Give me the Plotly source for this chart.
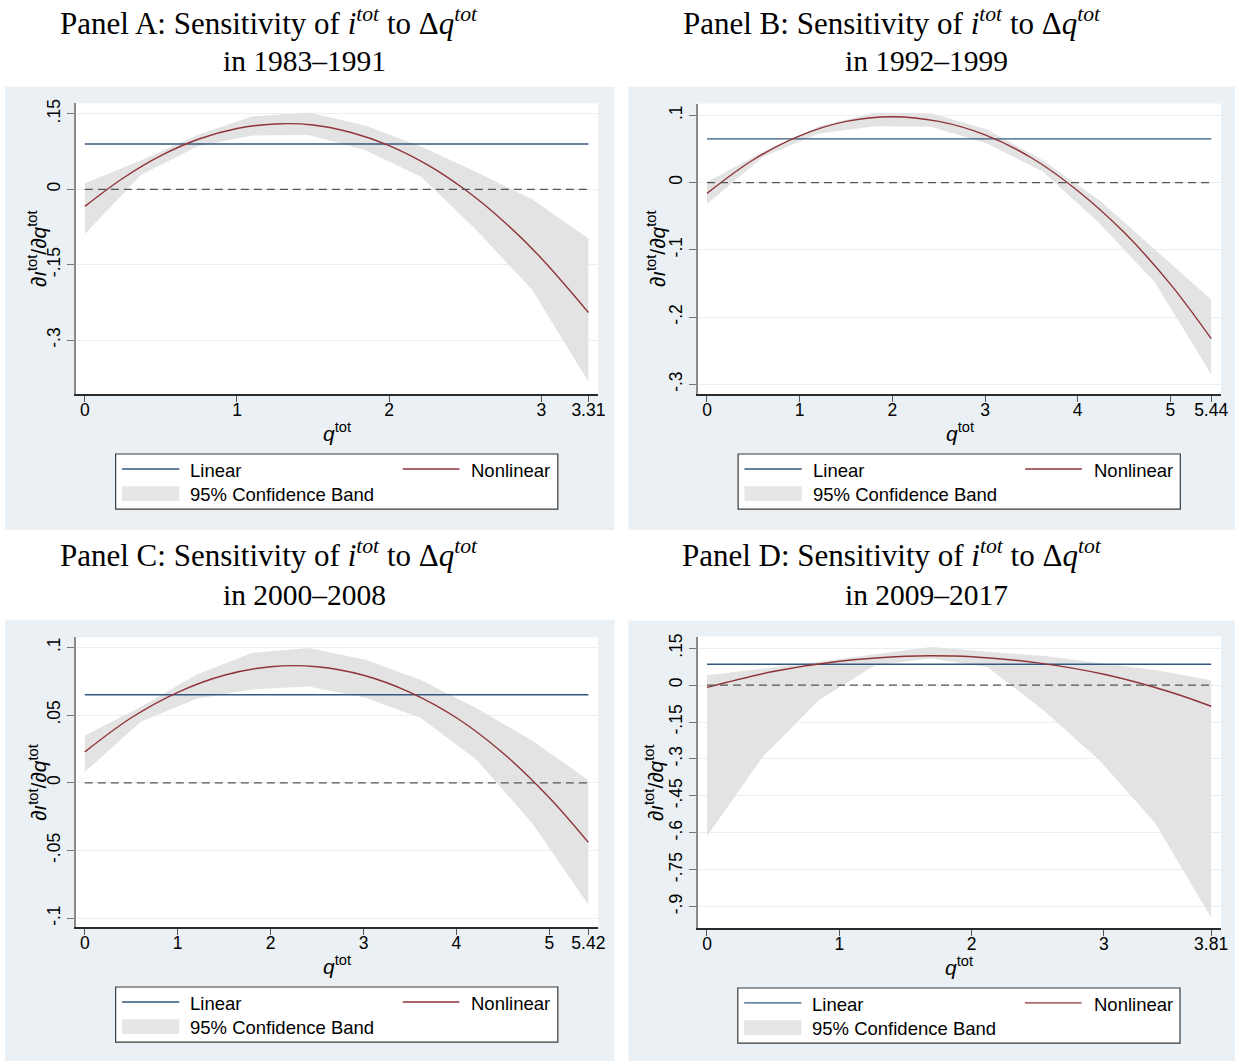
import plotly.graph_objects as go

W, H = 1242, 1062

# ---------------- data ----------------
# Panel A: 1983-1991
a_x_max = 3.31
a_linear = 0.090
a_curve_x = [0, 0.25, 0.5, 0.75, 1.0, 1.25, 1.5, 1.75, 2.0, 2.25, 2.5, 2.75, 3.0, 3.31]
a_curve_y = [-0.034, 0.022, 0.067, 0.100, 0.121, 0.130, 0.128, 0.113, 0.087, 0.049, -0.001, -0.063, -0.137, -0.245]
a_band_x = [0, 0.37, 0.74, 1.10, 1.47, 1.84, 2.21, 2.57, 2.94, 3.31]
a_band_hi = [0.012, 0.058, 0.108, 0.145, 0.153, 0.127, 0.085, 0.035, -0.020, -0.098]
a_band_lo = [-0.089, 0.029, 0.085, 0.107, 0.108, 0.078, 0.025, -0.080, -0.200, -0.383]
a_yticks = [0.15, 0, -0.15, -0.3]
a_yticklabels = [".15", "0", "-.15", "-.3"]
a_xticks = [0, 1, 2, 3, 3.31]
a_xticklabels = ["0", "1", "2", "3", "3.31"]

# Panel B: 1992-1999
b_x_max = 5.44
b_linear = 0.065
b_curve_x = [0, 0.5, 1.0, 1.5, 2.0, 2.5, 3.0, 3.5, 4.0, 4.5, 5.0, 5.44]
b_curve_y = [-0.016, 0.034, 0.0695, 0.091, 0.098, 0.091, 0.071, 0.037, -0.012, -0.074, -0.151, -0.232]
b_band_x = [0, 0.604, 1.209, 1.813, 2.418, 3.022, 3.627, 4.231, 4.836, 5.44]
b_band_hi = [0.001, 0.046, 0.084, 0.104, 0.103, 0.079, 0.033, -0.026, -0.100, -0.174]
b_band_lo = [-0.032, 0.038, 0.073, 0.084, 0.083, 0.058, 0.016, -0.060, -0.149, -0.285]
b_yticks = [0.1, 0, -0.1, -0.2, -0.3]
b_yticklabels = [".1", "0", "-.1", "-.2", "-.3"]
b_xticks = [0, 1, 2, 3, 4, 5, 5.44]
b_xticklabels = ["0", "1", "2", "3", "4", "5", "5.44"]

# Panel C: 2000-2008
c_x_max = 5.42
c_linear = 0.065
c_curve_x = [0, 0.5, 1.0, 1.5, 2.0, 2.5, 3.0, 3.5, 4.0, 4.5, 5.0, 5.42]
c_curve_y = [0.0228, 0.048, 0.0668, 0.0794, 0.0857, 0.0857, 0.0794, 0.0668, 0.048, 0.022, -0.011, -0.044]
c_band_x = [0, 0.602, 1.204, 1.807, 2.409, 3.011, 3.613, 4.216, 4.818, 5.42]
c_band_hi = [0.035, 0.056, 0.080, 0.096, 0.0995, 0.091, 0.076, 0.055, 0.031, 0.002]
c_band_lo = [0.008, 0.045, 0.062, 0.069, 0.071, 0.063, 0.048, 0.017, -0.030, -0.090]
c_yticks = [0.1, 0.05, 0, -0.05, -0.1]
c_yticklabels = [".1", ".05", "0", "-.05", "-.1"]
c_xticks = [0, 1, 2, 3, 4, 5, 5.42]
c_xticklabels = ["0", "1", "2", "3", "4", "5", "5.42"]

# Panel D: 2009-2017
d_x_max = 3.81
d_linear = 0.085
d_curve_x = [0, 0.5, 1.0, 1.5, 1.7, 2.0, 2.5, 3.0, 3.5, 3.81]
d_curve_y = [-0.0095, 0.055, 0.097, 0.117, 0.119, 0.115, 0.0905, 0.044, -0.028, -0.086]
d_band_x = [0, 0.423, 0.847, 1.27, 1.693, 2.117, 2.54, 2.963, 3.387, 3.81]
d_band_hi = [0.040, 0.0675, 0.0945, 0.1255, 0.155, 0.135, 0.119, 0.090, 0.061, 0.020]
d_band_lo = [-0.614, -0.290, -0.061, 0.081, 0.108, 0.074, -0.101, -0.304, -0.560, -0.945]
d_yticks = [0.15, 0, -0.15, -0.3, -0.45, -0.6, -0.75, -0.9]
d_yticklabels = [".15", "0", "-.15", "-.3", "-.45", "-.6", "-.75", "-.9"]
d_xticks = [0, 1, 2, 3, 3.81]
d_xticklabels = ["0", "1", "2", "3", "3.81"]

titles = [
    ("Panel A: Sensitivity of <i>i</i><sup><i>tot</i></sup> to Δ<i>q</i><sup><i>tot</i></sup>", "in 1983–1991"),
    ("Panel B: Sensitivity of <i>i</i><sup><i>tot</i></sup> to Δ<i>q</i><sup><i>tot</i></sup>", "in 1992–1999"),
    ("Panel C: Sensitivity of <i>i</i><sup><i>tot</i></sup> to Δ<i>q</i><sup><i>tot</i></sup>", "in 2000–2008"),
    ("Panel D: Sensitivity of <i>i</i><sup><i>tot</i></sup> to Δ<i>q</i><sup><i>tot</i></sup>", "in 2009–2017"),
]

legend_labels = ["Linear", "Nonlinear", "95% Confidence Band"]
x_title = "<i>q</i><sup>tot</sup>"
y_title = "∂<i>ı</i><sup>tot</sup>/∂<i>q</i><sup>tot</sup>"

panels = [
    dict(xmax=a_x_max, lin=a_linear, cx=a_curve_x, cy=a_curve_y, bx=a_band_x, bhi=a_band_hi, blo=a_band_lo,
         yt=a_yticks, ytl=a_yticklabels, xt=a_xticks, xtl=a_xticklabels),
    dict(xmax=b_x_max, lin=b_linear, cx=b_curve_x, cy=b_curve_y, bx=b_band_x, bhi=b_band_hi, blo=b_band_lo,
         yt=b_yticks, ytl=b_yticklabels, xt=b_xticks, xtl=b_xticklabels),
    dict(xmax=c_x_max, lin=c_linear, cx=c_curve_x, cy=c_curve_y, bx=c_band_x, bhi=c_band_hi, blo=c_band_lo,
         yt=c_yticks, ytl=c_yticklabels, xt=c_xticks, xtl=c_xticklabels),
    dict(xmax=d_x_max, lin=d_linear, cx=d_curve_x, cy=d_curve_y, bx=d_band_x, bhi=d_band_hi, blo=d_band_lo,
         yt=d_yticks, ytl=d_yticklabels, xt=d_xticks, xtl=d_xticklabels),
]

# ---------------- geometry (pixels) ----------------
frames = [
    dict(box=(5, 83, 618, 528), plot=(76, 99.5, 601.7, 391.3), xr=(-0.061, 3.375), yr=(-0.4068, 0.1714),
         t1=(271, 18), t2=(306, 57), yt_off=38),
    dict(box=(632, 83, 1242, 528), plot=(702, 100, 1228, 391.7), xr=(-0.0966, 5.547), yr=(-0.3148, 0.1175),
         t1=(897, 18), t2=(932, 57), yt_off=42),
    dict(box=(5, 618, 618, 1061), plot=(76, 635.7, 601.7, 926.7), xr=(-0.0995, 5.527), yr=(-0.1066, 0.1074),
         t1=(271, 552), t2=(306, 593), yt_off=38),
    dict(box=(632, 619, 1242, 1061), plot=(701.7, 635, 1228, 927.3), xr=(-0.0699, 3.885), yr=(-0.986, 0.197),
         t1=(897, 552), t2=(932, 593), yt_off=44),
]

BOX_BG = "#eaf0f3"
LIN_C = "#34587f"
NL_C = "#8f3439"
BAND_C = "#e3e3e3"
GRID_C = "#e9f0f2"
SANS = "Liberation Sans, Arial, sans-serif"
SERIF = "Liberation Serif, Times New Roman, serif"


def px(x):
    return x / W


def py(y):
    return 1 - y / H


fig = go.Figure()
shapes = []
annotations = []
layout_axes = {}

for i, (p, f) in enumerate(zip(panels, frames)):
    n = i + 1
    xa = "x" if n == 1 else f"x{n}"
    ya = "y" if n == 1 else f"y{n}"
    bl, bt, br, bb = f["box"]
    pl, pt, pr, pb = f["plot"]

    shapes.append(dict(type="rect", xref="paper", yref="paper", x0=px(bl), x1=px(br), y0=py(bb), y1=py(bt),
                       fillcolor=BOX_BG, line=dict(width=0), layer="below"))
    shapes.append(dict(type="rect", xref="paper", yref="paper", x0=px(pl), x1=px(pr), y0=py(pb), y1=py(pt),
                       fillcolor="white", line=dict(width=0), layer="below"))

    fig.add_trace(go.Scatter(x=p["bx"] + p["bx"][::-1], y=p["bhi"] + p["blo"][::-1], fill="toself",
                             fillcolor=BAND_C, line=dict(width=0), mode="lines", hoverinfo="skip",
                             showlegend=False, xaxis=xa, yaxis=ya))
    fig.add_trace(go.Scatter(x=[0, p["xmax"]], y=[p["lin"], p["lin"]], mode="lines",
                             line=dict(color=LIN_C, width=1.4), showlegend=False, xaxis=xa, yaxis=ya))
    fig.add_trace(go.Scatter(x=p["cx"], y=p["cy"], mode="lines", line=dict(color=NL_C, width=1.4, shape="spline"),
                             showlegend=False, xaxis=xa, yaxis=ya))
    fig.add_trace(go.Scatter(x=[0, p["xmax"]], y=[0, 0], mode="lines",
                             line=dict(color="#555555", width=1.3, dash="8px,5px"), showlegend=False,
                             xaxis=xa, yaxis=ya))

    xkey = "xaxis" if n == 1 else f"xaxis{n}"
    ykey = "yaxis" if n == 1 else f"yaxis{n}"
    layout_axes[xkey] = dict(domain=[px(pl), px(pr)], anchor=ya, range=list(f["xr"]), tickvals=p["xt"],
                             ticktext=p["xtl"], ticks="outside", ticklen=6, tickwidth=1.2, tickcolor="#555555",
                             showline=True, linecolor="#2b2b2b", linewidth=1.5, showgrid=False, zeroline=False,
                             ticklabelstandoff=-7,
                             tickfont=dict(family=SANS, size=17.5, color="black"))
    layout_axes[ykey] = dict(domain=[py(pb), py(pt)], anchor=xa, range=list(f["yr"]), tickvals=p["yt"],
                             ticktext=p["ytl"], ticks="outside", ticklen=7, tickwidth=1.2, tickcolor="#777777",
                             showline=True, linecolor="#8a8a8a", linewidth=1.8, showgrid=True, gridcolor=GRID_C,
                             gridwidth=1.2, zeroline=False, tickangle=-90,
                             tickfont=dict(family=SANS, size=17.5, color="black"))

    t_a, t_b = titles[i]
    annotations.append(dict(text=t_a, x=px(f["t1"][0]), y=py(f["t1"][1]), xref="paper", yref="paper",
                            showarrow=False, xanchor="center", yanchor="middle",
                            font=dict(family=SERIF, size=31, color="black")))
    annotations.append(dict(text=t_b, x=px(f["t2"][0]), y=py(f["t2"][1]), xref="paper", yref="paper",
                            showarrow=False, xanchor="center", yanchor="middle",
                            font=dict(family=SERIF, size=29.5, color="black")))
    annotations.append(dict(text=x_title, x=px((pl + pr) / 2), y=py(pb + 38), xref="paper", yref="paper",
                            showarrow=False, xanchor="center", yanchor="middle",
                            font=dict(family=SANS, size=21, color="black")))
    annotations.append(dict(text=y_title, x=px(pl - f["yt_off"]), y=py((pt + pb) / 2), xref="paper", yref="paper",
                            showarrow=False, xanchor="center", yanchor="middle", textangle=-90,
                            font=dict(family=SANS, size=21, color="black")))

    shapes.append(dict(type="rect", xref="paper", yref="paper", x0=px(pl + 40.3), x1=px(pl + 485),
                       y0=py(bt + 424), y1=py(bt + 368.7), fillcolor="white",
                       line=dict(color="#3a3a3a", width=1.2), layer="above"))
    shapes.append(dict(type="line", xref="paper", yref="paper", x0=px(pl + 46.7), x1=px(pl + 104.3),
                       y0=py(bt + 383.7), y1=py(bt + 383.7), line=dict(color=LIN_C, width=1.4), layer="above"))
    shapes.append(dict(type="line", xref="paper", yref="paper", x0=px(pl + 329), x1=px(pl + 386),
                       y0=py(bt + 383.7), y1=py(bt + 383.7), line=dict(color=NL_C, width=1.4), layer="above"))
    shapes.append(dict(type="rect", xref="paper", yref="paper", x0=px(pl + 46.7), x1=px(pl + 104.3),
                       y0=py(bt + 416), y1=py(bt + 401), fillcolor="#e6e6e6", line=dict(width=0),
                       layer="above"))
    for lab, lx, ly in [(legend_labels[0], pl + 113.3, bt + 385), (legend_labels[1], pl + 396, bt + 385),
                        (legend_labels[2], pl + 113.3, bt + 409)]:
        annotations.append(dict(text=lab, x=px(lx), y=py(ly), xref="paper", yref="paper", showarrow=False,
                                xanchor="left", yanchor="middle",
                                font=dict(family=SANS, size=18.5, color="black")))

# figure size comes from the div (placed at the page origin so the body margin never adds to the page)
fig.update_layout(
    autosize=True,
    margin=dict(l=0, r=0, t=0, b=0),
    paper_bgcolor="white", plot_bgcolor="white",
    shapes=shapes, annotations=annotations, showlegend=False,
    **layout_axes,
)

fig.write_html(
    "out.html",
    config={"displayModeBar": False, "responsive": False},
    default_width=f"{W}px; position:absolute; left:0px; top:0px",
    default_height=f"{H}px",
    post_script="document.body.style.margin='0px';",
)
